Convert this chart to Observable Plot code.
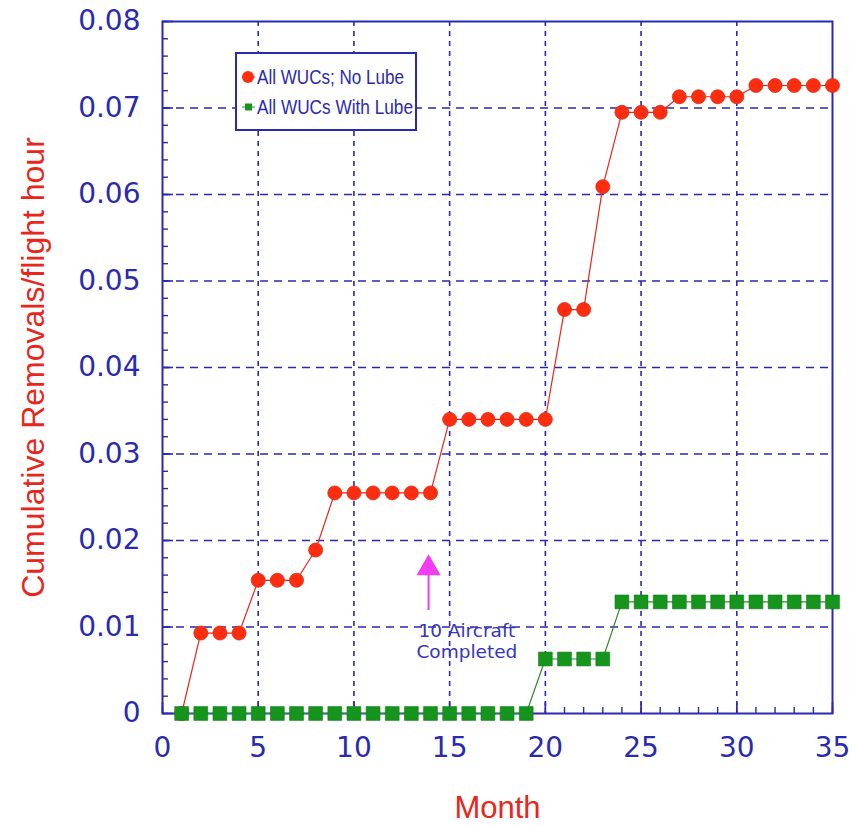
<!DOCTYPE html>
<html>
<head>
<meta charset="utf-8">
<script src="https://cdn.jsdelivr.net/npm/d3@7"></script>
<script src="https://cdn.jsdelivr.net/npm/@observablehq/plot@0.6"></script>
<style>
  html, body { margin: 0; padding: 0; background: #ffffff; }
  #chart { width: 856px; height: 825px; }
</style>
</head>
<body>
<div id="chart"></div>
<script>
// Months since start of the program
const months = [1, 2, 3, 4, 5, 6, 7, 8, 9, 10, 11, 12, 13, 14, 15, 16, 17, 18,
  19, 20, 21, 22, 23, 24, 25, 26, 27, 28, 29, 30, 31, 32, 33, 34, 35];

// Cumulative removals per flight hour, no lubrication
const noLube = [0, 0.0093, 0.0093, 0.0093, 0.0154, 0.0154, 0.0154, 0.0189,
  0.0255, 0.0255, 0.0255, 0.0255, 0.0255, 0.0255,
  0.0340, 0.0340, 0.0340, 0.0340, 0.0340, 0.0340,
  0.0467, 0.0467, 0.0609, 0.0695, 0.0695, 0.0695,
  0.0713, 0.0713, 0.0713, 0.0713,
  0.0726, 0.0726, 0.0726, 0.0726, 0.0726];

// Cumulative removals per flight hour, with lubrication
const withLube = [0, 0, 0, 0, 0, 0, 0, 0, 0, 0, 0, 0, 0, 0, 0, 0, 0, 0, 0,
  0.0063, 0.0063, 0.0063, 0.0063,
  0.0129, 0.0129, 0.0129, 0.0129, 0.0129, 0.0129, 0.0129, 0.0129, 0.0129, 0.0129, 0.0129, 0.0129];

const seriesNames = ["All WUCs; No Lube", "All WUCs With Lube"];

const xTicks = [0, 5, 10, 15, 20, 25, 30, 35];
const yTicks = [0, 0.01, 0.02, 0.03, 0.04, 0.05, 0.06, 0.07, 0.08];
const yTickLabels = ["0", "0.01", "0.02", "0.03", "0.04", "0.05", "0.06", "0.07", "0.08"];
const xGrid = [5, 10, 15, 20, 25, 30];
const yGrid = [0.01, 0.02, 0.03, 0.04, 0.05, 0.06, 0.07];

const xTitle = "Month";
const yTitle = "Cumulative Removals/flight hour";

// Annotation: when ten aircraft had been completed
const noteLines = ["10 Aircraft", "Completed"];
const noteMonth = 15.9;
const noteBaselines = [0.0088, 0.0064];
const arrowMonth = 13.9;
const arrowFrom = 0.0119;
const arrowTo = 0.0168;

const blue = "#2a2aae";
const red = "#e8261c";
const dotRed = "#ff2d10";
const green = "#16951c";

const noLubeRows = months.map((m, i) => ({month: m, value: noLube[i]}));
const withLubeRows = months.map((m, i) => ({month: m, value: withLube[i]}));

const svg = Plot.plot({
  width: 856,
  height: 825,
  marginLeft: 162,
  marginRight: 24,
  marginTop: 21,
  marginBottom: 112,
  style: {background: "#ffffff", fontFamily: "Liberation Sans, Arial, sans-serif"},
  x: {domain: [0, 35]},
  y: {domain: [0, 0.08]},
  marks: [
    Plot.gridX(xGrid, {stroke: blue, strokeOpacity: 1, strokeWidth: 1.6, strokeDasharray: "5,5"}),
    Plot.gridY(yGrid, {stroke: blue, strokeOpacity: 1, strokeWidth: 1.6, strokeDasharray: "8,6"}),
    Plot.frame({stroke: blue, strokeWidth: 2}),
    // inward tick marks
    Plot.axisX({ticks: d3.range(0, 36), tickSize: -6, text: null, label: null, stroke: blue, strokeWidth: 1.4}),
    Plot.axisX({ticks: xTicks, tickSize: -11, text: null, label: null, stroke: blue, strokeWidth: 1.6}),
    Plot.axisY({ticks: d3.range(0, 0.0801, 0.002), tickSize: -6, text: null, label: null, stroke: blue, strokeWidth: 1.4}),
    Plot.axisY({ticks: yTicks, tickSize: -11, text: null, label: null, stroke: blue, strokeWidth: 1.6}),
    // tick labels
    Plot.axisX({ticks: xTicks, tickSize: 0, tickPadding: 24, label: null,
      fontSize: 28, fontFamily: "DejaVu Sans, sans-serif", fill: blue}),
    Plot.axisY({ticks: yTicks, tickSize: 0, tickPadding: 22, label: null,
      tickFormat: d => yTickLabels[yTicks.indexOf(d)],
      fontSize: 28, fontFamily: "DejaVu Sans, sans-serif", fill: blue}),
    // series
    Plot.line(noLubeRows, {x: "month", y: "value", stroke: red, strokeWidth: 1.2}),
    Plot.dot(noLubeRows, {x: "month", y: "value", r: 7, fill: dotRed, stroke: "#e02a10", strokeWidth: 0.8}),
    Plot.line(withLubeRows, {x: "month", y: "value", stroke: "#2f8a2f", strokeWidth: 1.2}),
    Plot.dot(withLubeRows, {x: "month", y: "value", symbol: "square", r: 7.8, fill: green, stroke: "#0e7a14", strokeWidth: 0.6}),
    // annotation
    Plot.ruleX([arrowMonth], {y1: arrowFrom, y2: arrowTo, stroke: "#f23cf2", strokeWidth: 2}),
    Plot.dot([arrowMonth], {x: d => d, y: arrowTo, symbol: "triangle", r: 9, fill: "#f23cf2"}),
    Plot.text(noteLines, {x: noteMonth, y: (d, i) => noteBaselines[i], text: d => d,
      lineAnchor: "bottom", fontSize: 18.5, fontFamily: "DejaVu Sans, sans-serif", fill: "#3535c0"}),
    // axis titles
    Plot.text([yTitle], {frameAnchor: "left", dx: -129, rotate: -90, textAnchor: "middle",
      lineAnchor: "middle", fontSize: 32, fill: red}),
    Plot.text([xTitle], {frameAnchor: "bottom", dy: 95, lineAnchor: "middle", fontSize: 31, fill: red})
  ]
});

document.getElementById("chart").appendChild(svg);

// Legend box in the upper left of the plot area
const legend = d3.select(svg).append("g");
legend.append("rect")
  .attr("x", 236).attr("y", 53).attr("width", 180).attr("height", 77)
  .attr("fill", "#ffffff").attr("stroke", blue).attr("stroke-width", 2);
const rows = legend.selectAll("g.row").data(seriesNames).join("g")
  .attr("class", "row")
  .attr("transform", (d, i) => `translate(0, ${77 + i * 30})`);
rows.append("line")
  .attr("x1", 242).attr("x2", 255).attr("y1", 0).attr("y2", 0)
  .attr("stroke", (d, i) => i === 0 ? red : "#2f8a2f").attr("stroke-width", 1);
rows.filter((d, i) => i === 0).append("circle")
  .attr("cx", 248).attr("cy", 0).attr("r", 6).attr("fill", dotRed);
rows.filter((d, i) => i === 1).append("rect")
  .attr("x", 245).attr("y", -3.5).attr("width", 7).attr("height", 7).attr("fill", green);
rows.append("text")
  .attr("x", 257).attr("y", 7)
  .attr("text-anchor", "start")
  .attr("font-family", "Liberation Sans, Arial, sans-serif")
  .attr("font-size", 21)
  .attr("textLength", (d, i) => i === 0 ? 147 : 156)
  .attr("lengthAdjust", "spacingAndGlyphs")
  .attr("fill", blue)
  .text(d => d);
</script>
</body>
</html>
